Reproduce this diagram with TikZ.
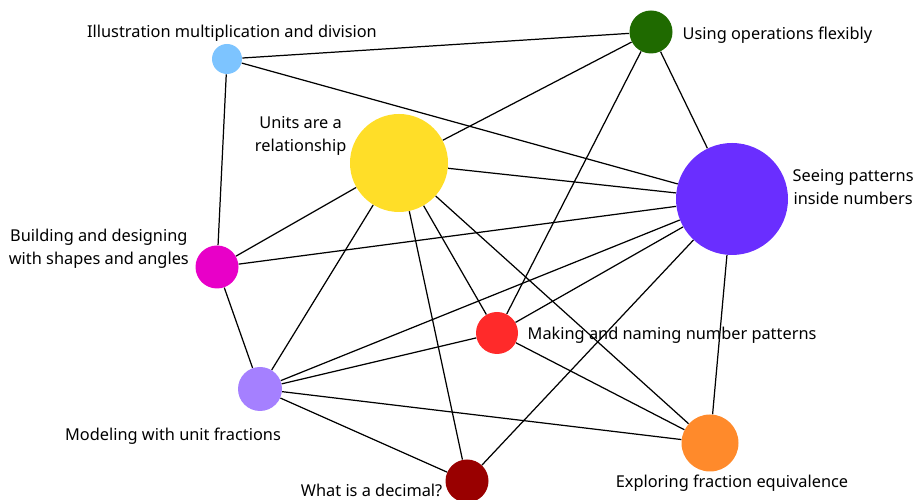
\documentclass[tikz,border=0pt]{standalone}
\usepackage{fontspec}
\setmainfont{Noto Sans}
\usepackage{xcolor}
\usepackage{tikz}
\usetikzlibrary{positioning}

\definecolor{illuscol}{HTML}{7DC4FF}
\definecolor{usingcol}{HTML}{1F6A00}
\definecolor{unitscol}{HTML}{FFDE28}
\definecolor{seeingcol}{HTML}{6A2EFF}
\definecolor{buildcol}{HTML}{E800C8}
\definecolor{makingcol}{HTML}{FF2A2A}
\definecolor{modelcol}{HTML}{A580FF}
\definecolor{explorecol}{HTML}{FF8A2B}
\definecolor{decimalcol}{HTML}{990000}

\begin{document}
\begin{tikzpicture}[
  topic/.style={circle, inner sep=0pt, minimum size=#1},
  lbl/.style={inner sep=0pt, align=center, font=\fontsize{9.3}{13}\selectfont},
  link/.style={line width=0.7pt}]
\useasboundingbox (0,0) rectangle (18.3,10);

\node [topic=0.6cm, fill=illuscol] (illus) at (4.54,8.82) {};
\node [topic=0.86cm, fill=usingcol] (using) at (13.02,9.36) {};
\node [topic=1.96cm, fill=unitscol] (units) at (7.98,6.74) {};
\node [topic=2.24cm, fill=seeingcol] (seeing) at (14.64,6.02) {};
\node [topic=0.86cm, fill=buildcol] (build) at (4.34,4.66) {};
\node [topic=0.84cm, fill=makingcol] (making) at (9.94,3.34) {};
\node [topic=0.88cm, fill=modelcol] (model) at (5.2,2.22) {};
\node [topic=1.14cm, fill=explorecol] (explore) at (14.2,1.14) {};
\node [topic=0.86cm, fill=decimalcol] (decimal) at (9.34,0.38) {};

% links
\draw [link] (illus) -- (using);
\draw [link] (illus) -- (seeing);
\draw [link] (illus) -- (build);
\draw [link] (using) -- (units);
\draw [link] (using) -- (seeing);
\draw [link] (using) -- (making);
\draw [link] (units) -- (seeing);
\draw [link] (units) -- (build);
\draw [link] (units) -- (model);
\draw [link] (units) -- (making);
\draw [link] (units) -- (explore);
\draw [link] (units) -- (decimal);
\draw [link] (seeing) -- (build);
\draw [link] (seeing) -- (model);
\draw [link] (seeing) -- (making);
\draw [link] (seeing) -- (explore);
\draw [link] (seeing) -- (decimal);
\draw [link] (build) -- (model);
\draw [link] (model) -- (making);
\draw [link] (model) -- (explore);
\draw [link] (model) -- (decimal);
\draw [link] (making) -- (explore);

% labels
\node [lbl, above=0.04cm of illus, xshift=0.1cm] (illus-l) {Illustration multiplication and division};
\node [lbl, right=0.19cm of using, yshift=-0.06cm] (using-l) {Using operations flexibly};
\node [lbl, left=0.06cm of units, yshift=0.54cm] (units-l) {Units are a\\relationship};
\node [lbl, right=0.08cm of seeing, yshift=0.24cm] (seeing-l) {Seeing patterns\\inside numbers};
\node [lbl, left=0.12cm of build, yshift=0.36cm] (build-l) {Building and designing\\with shapes and angles};
\node [lbl, right=0.18cm of making, yshift=-0.04cm] (making-l) {Making and naming number patterns};
\node [lbl, below=0.32cm of model, xshift=-1.74cm] (model-l) {Modeling with unit fractions};
\node [lbl, below=0.06cm of explore, xshift=0.44cm] (explore-l) {Exploring fraction equivalence};
\node [lbl, left=0.05cm of decimal, yshift=-0.18cm] (decimal-l) {What is a decimal?};
\end{tikzpicture}
\end{document}
